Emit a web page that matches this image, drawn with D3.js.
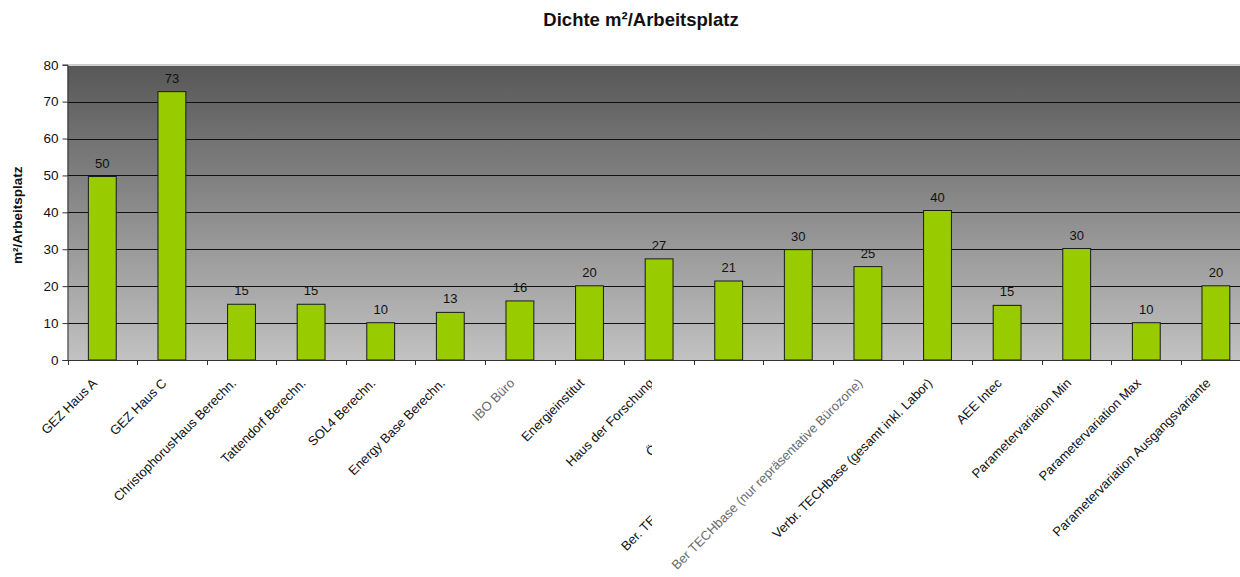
<!DOCTYPE html>
<html><head><meta charset="utf-8">
<script src="https://cdn.jsdelivr.net/npm/d3@7"></script>
<style>body{margin:0;background:#fff}svg{display:block;font-family:"Liberation Sans",Arial,sans-serif}</style>
</head><body><svg id="c" width="1240" height="577"></svg>
<script>
const categories = ["GEZ Haus A","GEZ Haus C","ChristophorusHaus Berechn.","Tattendorf Berechn.","SOL4 Berechn.","Energy Base Berechn.","IBO Büro","Energieinstitut","Haus der Forschung","Ökoprojekte Wien","Ber. TECHbase (gesamt inkl. Laborzone)","Ber TECHbase (nur repräsentative Bürozone)","Verbr. TECHbase (gesamt inkl. Labor)","AEE Intec","Parametervariation Min","Parametervariation Max","Parametervariation Ausgangsvariante"];
const values = [49.7,72.7,15.1,15.1,10.1,12.9,16.0,20.1,27.4,21.4,29.9,25.3,40.5,14.8,30.2,10.1,20.1];
const valueLabels = ["50","73","15","15","10","13","16","20","27","21","30","25","40","15","30","10","20"];
const yTicks = [0,10,20,30,40,50,60,70,80];
const title = "Dichte m²/Arbeitsplatz";
const yTitle = "m²/Arbeitsplatz";
const greyLabels = ["IBO Büro","Ber TECHbase (nur repräsentative Bürozone)"];
const clippedLabels = ["Haus der Forschung","Ökoprojekte Wien","Ber. TECHbase (gesamt inkl. Laborzone)"];

const svg = d3.select("#c");
const L = 67.5, T = 64.7, B = 360, R = 67.5 + 17*69.6;
const x = d3.scaleBand().domain(categories).range([L, R]).paddingInner(0.6).paddingOuter(0.3);
const y = d3.scaleLinear().domain([0,80]).range([B, T]);

const defs = svg.append("defs");
const g = defs.append("linearGradient").attr("id","bg").attr("x1",0).attr("y1",0).attr("x2",0).attr("y2",1);
g.append("stop").attr("offset","0%").attr("stop-color","#575757");
g.append("stop").attr("offset","100%").attr("stop-color","#c2c2c2");
defs.append("clipPath").attr("id","lc").append("rect").attr("x",0).attr("y",0).attr("width",652).attr("height",577);

svg.append("rect").attr("x",L).attr("y",T).attr("width",R-L).attr("height",B-T).attr("fill","url(#bg)");

// gridlines
svg.append("g").selectAll("line").data(yTicks.filter(d=>d>0 && d<80)).join("line")
  .attr("x1",L).attr("x2",R).attr("y1",d=>Math.round(y(d))+0.5).attr("y2",d=>Math.round(y(d))+0.5)
  .attr("stroke","#111").attr("stroke-width",1);
svg.append("line").attr("x1",L).attr("x2",R).attr("y1",Math.round(T)+0.5).attr("y2",Math.round(T)+0.5).attr("stroke","#d0d0d0");

// bars
svg.append("g").selectAll("rect").data(categories).join("rect")
  .attr("x",d=>x(d)).attr("width",x.bandwidth())
  .attr("y",(d,i)=>y(values[i])).attr("height",(d,i)=>B-y(values[i]))
  .attr("fill","#99cc00").attr("stroke","#1a1a1a").attr("stroke-width",1);

// value labels
svg.append("g").selectAll("text").data(categories).join("text")
  .attr("x",d=>x(d)+x.bandwidth()/2).attr("y",(d,i)=>y(values[i])-9)
  .attr("text-anchor","middle").attr("font-size",13).attr("fill","#111")
  .text((d,i)=>valueLabels[i]);

// y axis
const ya = d3.axisLeft(y).tickValues(yTicks).tickSize(5).tickPadding(4);
const yg = svg.append("g").attr("transform",`translate(${L},0)`).call(ya);
yg.select(".domain").attr("stroke","#333");
yg.selectAll(".tick line").attr("stroke","#333");
yg.selectAll("text").attr("font-size",13.5).attr("fill","#111").attr("font-family","Liberation Sans, Arial, sans-serif");

// x axis with ticks at band boundaries
const xb = d3.scaleLinear().domain([0,17]).range([L,R]);
const xg = svg.append("g").attr("transform",`translate(0,${B})`);
xg.append("line").attr("x1",L).attr("x2",R).attr("y1",0.5).attr("y2",0.5).attr("stroke","#333");
xg.selectAll("line.t").data(d3.range(18)).join("line").attr("class","t")
  .attr("x1",d=>Math.round(xb(d))+0.5).attr("x2",d=>Math.round(xb(d))+0.5).attr("y1",0).attr("y2",5).attr("stroke","#333");

// x labels
const labG = svg.append("g");
const clipG = svg.append("g").attr("clip-path","url(#lc)");
categories.forEach(d=>{
  const parent = clippedLabels.includes(d) ? clipG : labG;
  parent.append("text")
    .attr("transform",`translate(${x(d)+x.bandwidth()/2-4.5},${B+24}) rotate(-45)`)
    .attr("text-anchor","end").attr("font-size",13)
    .attr("fill",greyLabels.includes(d)?"#6a6a6a":"#111")
    .text(d);
});

svg.append("text").attr("x",641).attr("y",26).attr("text-anchor","middle")
  .attr("font-size",18.5).attr("font-weight","bold").attr("fill","#111").text(title);
svg.append("text").attr("transform",`translate(22,${(T+B)/2+3}) rotate(-90)`).attr("text-anchor","middle")
  .attr("font-size",13.5).attr("font-weight","bold").attr("fill","#111").text(yTitle);
</script></body></html>
